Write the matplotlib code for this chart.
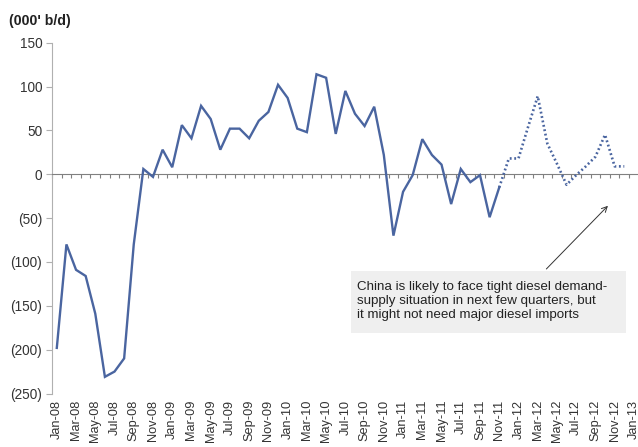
import matplotlib

matplotlib.use("Agg")
import matplotlib.pyplot as plt
import numpy as np
from matplotlib.patches import Rectangle

# --- data: monthly China diesel balance, 000' b/d ---
MONTHS = [f"{m}-{y:02d}" for y in range(8, 14)
          for m in ("Jan", "Feb", "Mar", "Apr", "May", "Jun",
                    "Jul", "Aug", "Sep", "Oct", "Nov", "Dec")][:61]

ACTUAL = [-198, -80, -109, -116, -159, -231, -225, -210, -80, 6, -3, 28,
          8, 56, 41, 78, 63, 28, 52, 52, 41, 61, 71, 102,
          87, 52, 48, 114, 110, 46, 95, 69, 55, 77, 22, -70,
          -20, -1, 40, 22, 11, -34, 6, -9, -1, -49, -15]
# forecast starts from the last actual month (Nov-11)
FORECAST = [-15, 18, 18, 54, 89, 35, 12, -12, -1, 9, 20, 45, 9, 9]

NOTE = ("China is likely to face tight diesel demand-\n"
        "supply situation in next few quarters, but\n"
        "it might not need major diesel imports")

LINE = "#4A65A0"
AXIS = "#808080"
TICK_FS = 9.8

plt.rcParams.update({
    "font.family": ["Liberation Sans", "DejaVu Sans"],
    "font.size": TICK_FS,
    "text.color": "#222222",
})

fig = plt.figure(figsize=(6.38, 4.47), dpi=100)
ax = fig.add_axes([52 / 638, 1 - 393.5 / 447, 586.7 / 638, (393.5 - 42.7) / 447])

n = len(MONTHS)
x_act = np.arange(len(ACTUAL))
x_fc = np.arange(len(ACTUAL) - 1, len(ACTUAL) - 1 + len(FORECAST))
ax.plot(x_act, ACTUAL, color=LINE, lw=1.7, solid_joinstyle="miter", zorder=3)
ax.plot(x_fc, FORECAST, color=LINE, lw=1.9, linestyle=(0, (0.7, 1.0)),
        dash_capstyle="butt", zorder=3)

ax.set_xlim(-0.5, n - 0.5)
ax.set_ylim(-250, 150)
ax.set_yticks(range(-250, 151, 50))
ax.set_yticklabels([f"({-v})" if v < 0 else f"{v}" for v in range(-250, 151, 50)],
                   fontsize=TICK_FS, color="#333333")
ax.tick_params(axis="y", direction="out", length=4, color="#B0B0B0", pad=3)

# horizontal axis sits on zero, tick marks between months
ax.spines["bottom"].set_position(("data", 0))
ax.spines["bottom"].set_color(AXIS)
ax.spines["left"].set_color("#B0B0B0")
for side in ("top", "right"):
    ax.spines[side].set_visible(False)
ax.set_xticks(np.arange(-0.5, n, 1.0))
ax.tick_params(axis="x", direction="out", length=3, color=AXIS, labelbottom=False)

# month labels along the bottom edge
sec = ax.secondary_xaxis("bottom")
sec.spines["bottom"].set_visible(False)
sec.set_xticks(range(0, n, 2))
sec.set_xticklabels(MONTHS[::2], rotation=90, fontsize=9.2, color="#333333")
sec.tick_params(length=0, pad=4.5)

fig.text(9 / 638, 1 - 21 / 447, "(000' b/d)", fontsize=10.2, fontweight="bold",
         va="center", ha="left")

# callout box and arrow
ax.add_patch(Rectangle((30.6, -181), 28.6, 70.7, facecolor="#EFEFEF",
                       edgecolor="none", zorder=2))
ax.text(31.2, -144.5, NOTE, fontsize=9.6, va="center", ha="left",
        linespacing=1.22, color="#222222", zorder=4)
ax.annotate("", xy=(57.3, -36), xytext=(50.9, -108),
            arrowprops=dict(arrowstyle="->", color="#333333", lw=0.7,
                            shrinkA=0, shrinkB=0), zorder=4)

fig.savefig("out.png", dpi=100, facecolor="white")
